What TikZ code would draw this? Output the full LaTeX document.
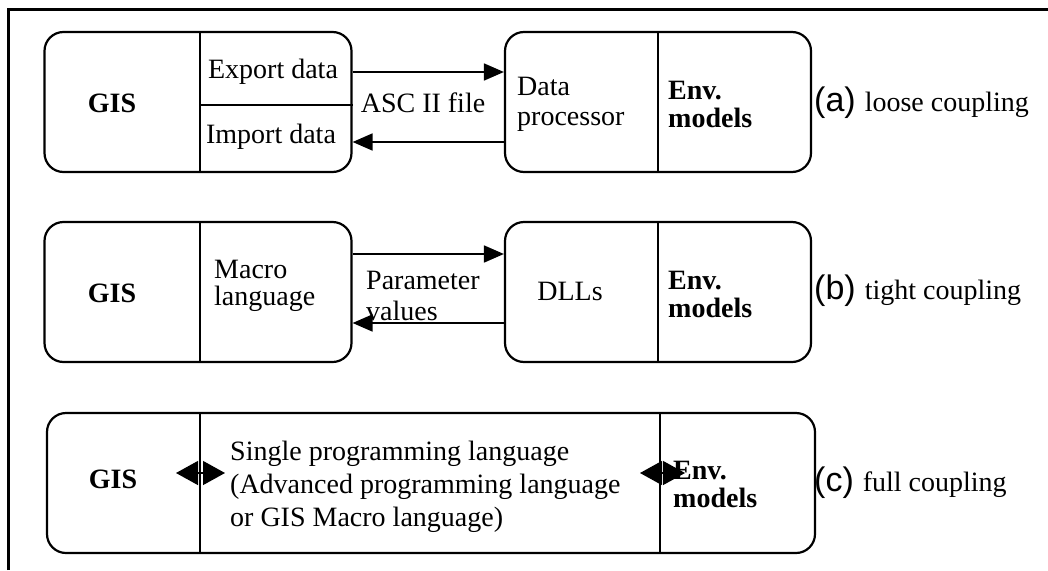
\documentclass[tikz,border=0pt]{standalone}
\usepackage{fontspec}
\setmainfont{Liberation Serif}
\newfontfamily\labfont{Liberation Sans}
\usetikzlibrary{arrows.meta}

\begin{document}
\begin{tikzpicture}[x=1pt,y=-1pt,>={Triangle[length=20pt,width=17pt]},
    box/.style={draw,line width=2.2pt,rounded corners=19pt,minimum height=140pt,inner sep=0pt},
    div/.style={line width=1.3pt},
    arr/.style={->,line width=1.8pt},
    dbl/.style={{Triangle[length=22pt,width=24pt]}-{Triangle[length=22pt,width=24pt]},line width=1.3pt},
    txt/.style={font=\fontsize{28}{30}\selectfont,inner sep=0pt,align=left},
    bld/.style={txt,font=\fontsize{28}{28}\selectfont\bfseries},
    lab/.style={txt,anchor=west,font=\fontsize{28}{30}\selectfont}]

    \useasboundingbox (0,0) rectangle (1048,570);
    % frame: only top and left edge
    \draw[line width=3pt] (8.5,570) -- (8.5,9.5) -- (1048,9.5);

    % rows (a) and (b)
    \foreach \y/\r in {102/A,292/B}{
        \node[box,minimum width=307pt] (gis\r) at (198,\y) {};
        \node[box,minimum width=306pt] (mod\r) at (658,\y) {};
        \draw[div] (200,\y-70) -- (200,\y+70);
        \draw[div] (658,\y-70) -- (658,\y+70);
        \node[bld] (g\r) at (112,\y+1) {GIS};
        \node[bld,anchor=west] (e\r) at (668,\y+2) {Env.\\models};
    }

    % (a) loose coupling
    \draw[div] (200,105) -- (gisA.east |- 0,105);
    \node[txt] (exp) at (273,72) {Export data};
    \node[txt] (imp) at (271,137) {Import data};
    \node[txt] (asc) at (423,103) {ASC II file};
    \node[txt,anchor=west] (dp) at (517,104) {Data\\processor};
    \draw[arr] (gisA.east |- 0,72) -- (modA.west |- 0,72);
    \draw[arr] (modA.west |- 0,142) -- (gisA.east |- 0,142);
    \node[lab] (la) at (814,103) {{\labfont\fontsize{34}{34}\selectfont(a)}\hspace{9pt}loose coupling};

    % (b) tight coupling
    \node[txt,anchor=west,font=\fontsize{28}{27}\selectfont] (mac) at (214,286) {Macro\\language};
    \node[txt,anchor=west,font=\fontsize{28}{31}\selectfont] (par) at (366,296) {Parameter\\values};
    \node[txt] (dll) at (570,291) {DLLs};
    \draw[arr] (gisB.east |- 0,254) -- (modB.west |- 0,254);
    \draw[arr] (modB.west |- 0,323) -- (gisB.east |- 0,323);
    \node[lab] (lb) at (814,291) {{\labfont\fontsize{34}{34}\selectfont(b)}\hspace{9pt}tight coupling};

    % (c) full coupling
    \node[box,minimum width=768pt] (all) at (431,483) {};
    \draw[div] (200,413) -- (200,553);
    \draw[div] (660,413) -- (660,553);
    \node[bld] (gC) at (113,479) {GIS};
    \node[bld,anchor=west] (eC) at (673,484) {Env.\\models};
    \node[txt,anchor=west,font=\fontsize{28}{33}\selectfont] (spl) at (230,487)
        {Single programming language\\(Advanced programming language\\or GIS Macro language)};
    \coordinate (c1) at (200,473);
    \coordinate (c2) at (662,473);
    \draw[dbl] ([xshift=-24pt]c1) -- ([xshift=25pt]c1);
    \draw[dbl] ([xshift=-22pt]c2) -- ([xshift=23pt]c2);
    \node[lab] (lc) at (814,483) {{\labfont\fontsize{34}{34}\selectfont(c)}\hspace{9pt}full coupling};
\end{tikzpicture}
\end{document}
